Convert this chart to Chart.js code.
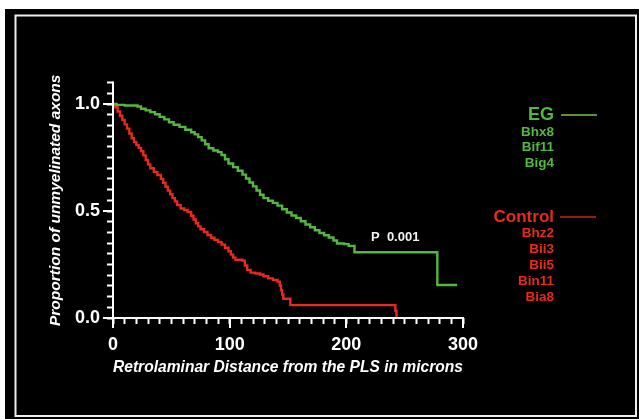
<!DOCTYPE html>
<html>
<head>
<meta charset="utf-8">
<script src="https://cdn.jsdelivr.net/npm/chart.js@4"></script>
<style>
  html, body { margin: 0; padding: 0; background: #fff; }
  canvas { display: block; }
</style>
</head>
<body>
<canvas id="Chart" width="639" height="419"></canvas>
<script>
// Kaplan-Meier curves (distance in microns, proportion still unmyelinated)
var egDist = [0,3,10,21,24,28,32,36,40,44,48,52,57,62,67,70,73,76,79,82,86,90,93,96,99,103,107,111,114,117,120,123,126,129,133,137,141,145,149,153,157,161,165,169,173,177,181,185,189,192,198,202,207,278,295];
var egProp = [1.0,0.996,0.993,0.988,0.978,0.970,0.962,0.952,0.940,0.928,0.915,0.903,0.893,0.880,0.868,0.858,0.845,0.830,0.812,0.793,0.783,0.775,0.762,0.742,0.722,0.705,0.688,0.670,0.652,0.633,0.615,0.596,0.576,0.560,0.548,0.538,0.525,0.508,0.493,0.479,0.467,0.452,0.437,0.424,0.410,0.397,0.387,0.376,0.362,0.348,0.345,0.337,0.307,0.154,0.154];

var ctrlDist = [0,2,4,6,8,10,12,14,16,18,20,22,24,26,28,30,32,35,38,41,43,45,47,49,51,53,55,58,61,64,67,69,71,73,75,78,81,84,87,90,93,96,99,101,103,105,111,113,115,118,122,126,129,133,137,141,143,144,145,146,152,242,243];
var ctrlProp = [1.0,0.985,0.965,0.945,0.925,0.905,0.885,0.862,0.840,0.822,0.808,0.795,0.780,0.760,0.738,0.718,0.700,0.683,0.668,0.650,0.632,0.613,0.595,0.578,0.560,0.545,0.528,0.512,0.505,0.495,0.478,0.460,0.443,0.428,0.415,0.402,0.388,0.375,0.365,0.355,0.343,0.328,0.312,0.296,0.282,0.272,0.268,0.245,0.225,0.212,0.208,0.203,0.195,0.185,0.178,0.170,0.152,0.130,0.110,0.090,0.060,0.034,0.0];

// Axis tick labels and minor tick steps
var xTicks = [0,100,200,300];
var yTicks = [0,0.5,1.0];
var xMinorStep = 10;
var yMinorStep = 0.05;

// Legend text
var egLabel = "EG";
var egSamples = ["Bhx8","Bif11","Big4"];
var ctrlLabel = "Control";
var ctrlSamples = ["Bhz2","Bii3","Bii5","Bin11","Bia8"];
var pText = "P  0.001";

var GREEN = "#53b83f";
var RED = "#e8291e";
var FONT = "'Liberation Sans', Arial, sans-serif";

function toPoints(xs, ys) {
  return xs.map(function(x, i) { return { x: x, y: ys[i] }; });
}

// tick list with minor marks between the labelled ones
function minorTicks(scale, step) {
  var out = [];
  var n = Math.round((scale.max - scale.min) / step);
  for (var i = 0; i <= n; i++) out.push({ value: +(scale.min + i * step).toFixed(3) });
  return out;
}

// ----------------------------------- Plugins -------------------------------------------
// Black panel with thin white frame
var framePlugin = {
  id: 'frame',
  beforeDraw: function(chart) {
    var c = chart.ctx;
    c.save();
    c.fillStyle = '#fff';
    c.fillRect(0, 0, chart.width, chart.height);
    c.fillStyle = '#000';
    c.fillRect(5, 9, chart.width - 5, chart.height - 9);
    c.strokeStyle = '#eee';
    c.lineWidth = 2;
    c.strokeRect(15.5, 15.5, 620.5, 400.5);
    c.restore();
  }
};

// Axis lines + longer marks at the labelled ticks
var axesPlugin = {
  id: 'axisLines',
  afterDraw: function(chart) {
    var c = chart.ctx, xs = chart.scales.x, ys = chart.scales.y;
    var x0 = Math.round(xs.getPixelForValue(0)), y0 = Math.round(ys.getPixelForValue(0));
    c.save();
    c.strokeStyle = '#ffffff';
    c.lineWidth = 2;
    c.beginPath();
    c.moveTo(x0, ys.getPixelForValue(ys.max) - 1);
    c.lineTo(x0, y0);
    c.lineTo(xs.getPixelForValue(xs.max) + 1, y0);
    xTicks.forEach(function(v) {
      var px = Math.round(xs.getPixelForValue(v));
      c.moveTo(px, y0);
      c.lineTo(px, y0 + 10);
    });
    yTicks.forEach(function(v) {
      var py = Math.round(ys.getPixelForValue(v));
      c.moveTo(x0, py);
      c.lineTo(x0 - 10, py);
    });
    c.stroke();
    c.restore();
  }
};

// Group legend on the right and p-value note
var notesPlugin = {
  id: 'notes',
  afterDraw: function(chart) {
    var c = chart.ctx;
    c.save();
    c.textAlign = 'right';
    c.textBaseline = 'middle';

    c.fillStyle = GREEN;
    c.font = 'bold 18px ' + FONT;
    c.fillText(egLabel, 554, 115);
    c.font = 'bold 13.5px ' + FONT;
    egSamples.forEach(function(s, i) { c.fillText(s, 554, 132 + i * 15.5); });

    c.fillStyle = RED;
    c.font = 'bold 17px ' + FONT;
    c.fillText(ctrlLabel, 554, 217);
    c.font = 'bold 13.5px ' + FONT;
    ctrlSamples.forEach(function(s, i) { c.fillText(s, 554, 233 + i * 16); });

    c.lineWidth = 1.5;
    c.strokeStyle = '#7cc242';
    c.beginPath(); c.moveTo(561, 115); c.lineTo(597, 115); c.stroke();
    c.strokeStyle = '#d0201a';
    c.beginPath(); c.moveTo(560, 217); c.lineTo(596, 217); c.stroke();

    c.fillStyle = '#f2f2f2';
    c.textAlign = 'left';
    c.font = 'bold 13px ' + FONT;
    c.fillText(pText, 371, 237);
    c.restore();
  }
};

// ----------------------------------- Chart.js -------------------------------------------
var tickGrid = {
  display: true,
  drawOnChartArea: false,
  drawTicks: true,
  tickLength: 6,
  tickWidth: 2,
  tickColor: '#ffffff',
  color: '#ffffff'
};

var chart = document.getElementById("Chart");
var myChart = new Chart(chart, {
  type: 'line',
  data: {
    datasets: [
      {
        label: egLabel,
        data: toPoints(egDist, egProp),
        borderColor: GREEN,
        borderWidth: 2.4,
        stepped: true,
        pointRadius: 0,
        fill: false
      }, {
        label: ctrlLabel,
        data: toPoints(ctrlDist, ctrlProp),
        borderColor: RED,
        borderWidth: 2.4,
        stepped: true,
        pointRadius: 0,
        fill: false
      }
    ]
  },
  options: {
    responsive: false,
    animation: false,
    layout: { padding: { left: 0, right: 176, top: 82.6, bottom: 0 } },
    plugins: { legend: { display: false }, tooltip: { enabled: false } },
    scales: {
      x: {
        type: 'linear',
        min: 0,
        max: 300,
        afterFit: function(s) { s.height = 101; },
        afterBuildTicks: function(s) { s.ticks = minorTicks(s, xMinorStep); },
        grid: tickGrid,
        border: { display: false },
        ticks: {
          color: '#fff',
          padding: 10,
          maxRotation: 0,
          autoSkip: false,
          font: { family: FONT, size: 18, weight: 'bold' },
          callback: function(v) { return xTicks.indexOf(v) >= 0 ? String(v) : ''; }
        },
        title: {
          display: true,
          text: 'Retrolaminar Distance from the PLS in microns',
          color: '#fff',
          font: { family: FONT, size: 16.5, weight: 'bold', style: 'italic' },
          padding: { top: 0, bottom: 42 }
        }
      },
      y: {
        min: 0,
        max: 1.1,
        afterFit: function(s) { s.width = 113; },
        afterBuildTicks: function(s) { s.ticks = minorTicks(s, yMinorStep); },
        grid: tickGrid,
        border: { display: false },
        ticks: {
          color: '#fff',
          padding: 7,
          autoSkip: false,
          font: { family: FONT, size: 18, weight: 'bold' },
          callback: function(v) { return yTicks.indexOf(v) >= 0 ? v.toFixed(1) : ''; }
        },
        title: {
          display: true,
          text: 'Proportion of unmyelinated axons',
          color: '#fff',
          font: { family: FONT, size: 15.5, weight: 'bold', style: 'italic' },
          padding: { top: 46, bottom: 0 }
        }
      }
    }
  },
  plugins: [framePlugin, axesPlugin, notesPlugin]
});
</script>
</body>
</html>
